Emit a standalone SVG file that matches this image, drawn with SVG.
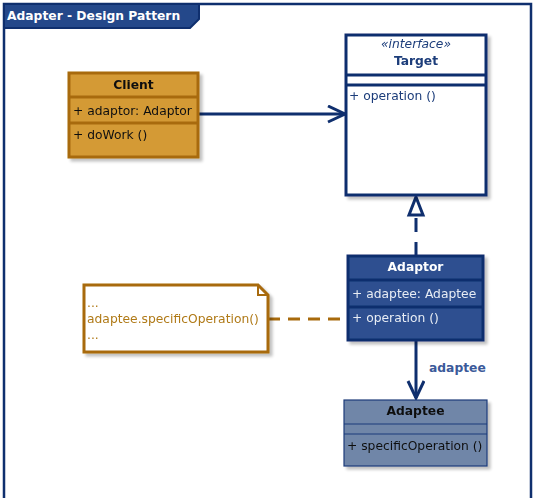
<svg xmlns="http://www.w3.org/2000/svg" width="533" height="498" viewBox="0 0 533 498">
<defs>
<style>
text{font-family:"DejaVu Sans",Verdana,sans-serif;font-size:12.3px}
.b{font-weight:bold}
.navy{fill:#1b3c7a}
.conn{fill:none;stroke:#0f2f6e;stroke-width:3}
</style>
<filter id="sh" x="-10%" y="-10%" width="130%" height="130%">
<feGaussianBlur in="SourceAlpha" stdDeviation="1.5"/>
<feOffset dx="3" dy="3"/>
<feComponentTransfer><feFuncA type="linear" slope="0.25"/></feComponentTransfer>
<feMerge><feMergeNode/><feMergeNode in="SourceGraphic"/></feMerge>
</filter>
<marker id="open" markerWidth="22" markerHeight="20" refX="18" refY="9" orient="auto" markerUnits="userSpaceOnUse">
<path d="M1,1 L18,9 L1,17" fill="none" stroke="#0f2f6e" stroke-width="3"/>
</marker>
</defs>
<rect width="533" height="498" fill="#fff"/>
<g id="frame">
<path d="M4,500 V4 H531 V500" fill="none" stroke="#0f2f6e" stroke-width="2.5"/>
<path d="M4,4 H199 V19 L190,28 H4 Z" fill="#24488a" stroke="#0f2f6e" stroke-width="2"/>
<text x="7" y="20" class="b" fill="#fff" font-size="12.2">Adapter - Design Pattern</text>
</g>
<g id="connectors">
<line x1="198" y1="114" x2="345" y2="114" class="conn" marker-end="url(#open)"/>
<line x1="416" y1="256" x2="416" y2="216" class="conn" stroke-dasharray="14,10"/>
<path d="M416,197 L423,215 L409,215 Z" fill="#fff" stroke="#0f2f6e" stroke-width="3"/>
<line x1="268" y1="319" x2="348" y2="319" fill="none" stroke="#a86a0c" stroke-width="3" stroke-dasharray="12,8"/>
<line x1="416" y1="340" x2="416" y2="398" class="conn" marker-end="url(#open)"/>
<text x="429" y="372" class="b" fill="#3b5a9a" font-size="12.8">adaptee</text>
</g>
<g id="client" filter="url(#sh)">
<rect x="69" y="73" width="129" height="84" fill="#d49a35" stroke="#a86a0c" stroke-width="3"/>
<line x1="69" y1="97" x2="198" y2="97" stroke="#a86a0c" stroke-width="3"/>
<line x1="69" y1="123" x2="198" y2="123" stroke="#a86a0c" stroke-width="3"/>
<text x="133.5" y="89" class="b" text-anchor="middle" fill="#111" font-size="13">Client</text>
<text x="73" y="115" fill="#111">+ adaptor: Adaptor</text>
<text x="73" y="139" fill="#111">+ doWork ()</text>
</g>
<g id="target" filter="url(#sh)">
<rect x="346" y="35" width="140" height="160" fill="#fff" stroke="#0f2f6e" stroke-width="3"/>
<line x1="346" y1="75" x2="486" y2="75" stroke="#0f2f6e" stroke-width="3"/>
<line x1="346" y1="85" x2="486" y2="85" stroke="#0f2f6e" stroke-width="3"/>
<text x="416" y="48" text-anchor="middle" font-style="italic" font-size="10.5" fill="#1b3c7a">«interface»</text>
<text x="416" y="65" text-anchor="middle" class="b navy" font-size="13">Target</text>
<text x="349" y="100" class="navy">+ operation ()</text>
</g>
<g id="adaptor" filter="url(#sh)">
<rect x="348" y="256" width="135" height="84" fill="#2d5090" stroke="#0f2f6e" stroke-width="3"/>
<line x1="348" y1="280" x2="483" y2="280" stroke="#0f2f6e" stroke-width="3"/>
<line x1="348" y1="307" x2="483" y2="307" stroke="#0f2f6e" stroke-width="3"/>
<text x="415.5" y="271" class="b" text-anchor="middle" fill="#fff" font-size="13">Adaptor</text>
<text x="352" y="298" fill="#e8ecf4">+ adaptee: Adaptee</text>
<text x="352" y="322" fill="#e8ecf4">+ operation ()</text>
</g>
<g id="adaptee" filter="url(#sh)">
<rect x="344" y="400" width="143" height="66" fill="#6f86a8" stroke="#1b3c7a" stroke-width="1.2"/>
<line x1="344" y1="424" x2="487" y2="424" stroke="#1b3c7a" stroke-width="1.2"/>
<line x1="344" y1="434" x2="487" y2="434" stroke="#1b3c7a" stroke-width="1.2"/>
<text x="415.5" y="415" class="b" text-anchor="middle" fill="#111" font-size="13">Adaptee</text>
<text x="347" y="450" fill="#111">+ specificOperation ()</text>
</g>
<g id="note" filter="url(#sh)">
<path d="M84,285 H258 L268,295 V352 H84 Z" fill="#fff" stroke="#a86a0c" stroke-width="3"/>
<path d="M258,285 V295 H268" fill="none" stroke="#a86a0c" stroke-width="2"/>
<text x="87" y="307" fill="#b07a18">...</text>
<text x="87" y="323" fill="#b07a18">adaptee.specificOperation()</text>
<text x="87" y="339" fill="#b07a18">...</text>
</g>
</svg>
